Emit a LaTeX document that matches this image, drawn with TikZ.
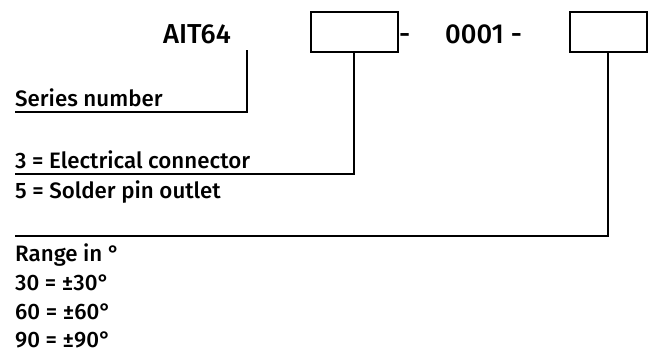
\documentclass[tikz,border=0pt]{standalone}
\usepackage{fontspec}
\setmainfont{Fira Sans}[UprightFont={* Medium}]
\begin{document}
\begin{tikzpicture}[x=1bp,y=-1bp,
  lbl/.style={anchor=base west,inner sep=0pt,font=\fontsize{22.4}{26}\selectfont},
  big/.style={anchor=base west,inner sep=0pt,font=\fontsize{27.5}{32}\selectfont},
  codebox/.style={draw,line width=2bp,minimum width=87bp,minimum height=40bp,inner sep=0pt},
  conn/.style={line width=2bp}]
\useasboundingbox (0,0) rectangle (649,354);
\node[big] (ait) at (163,43) {AIT64};
\node[codebox,anchor=north west] (b1) at (310,11) {};
\node[big] (d1) at (399,43) {-};
\node[big] (num) at (445,43) {0001 -};
\node[codebox,anchor=north west,minimum width=77bp] (b2) at (569,11) {};
\coordinate (a0) at (247,50);
\coordinate (l0) at (15,112);
\coordinate (l1) at (15,174);
\coordinate (l2) at (15,236);
\draw[conn] (a0) |- (l0);
\draw[conn] (b1.south -| 354,0) |- (l1);
\draw[conn] (b2.south -| 608,0) |- (l2);
\node[lbl] (t0) at (15,106) {Series number};
\node[lbl] (t1) at (15,168) {3 = Electrical connector};
\node[lbl] (t2) at (15,198) {5 = Solder pin outlet};
\node[lbl] (t3) at (15,261) {Range in °};
\node[lbl] (t4) at (15,290) {30 = ±30°};
\node[lbl] (t5) at (15,319) {60 = ±60°};
\node[lbl] (t6) at (15,347) {90 = ±90°};
\end{tikzpicture}
\end{document}
